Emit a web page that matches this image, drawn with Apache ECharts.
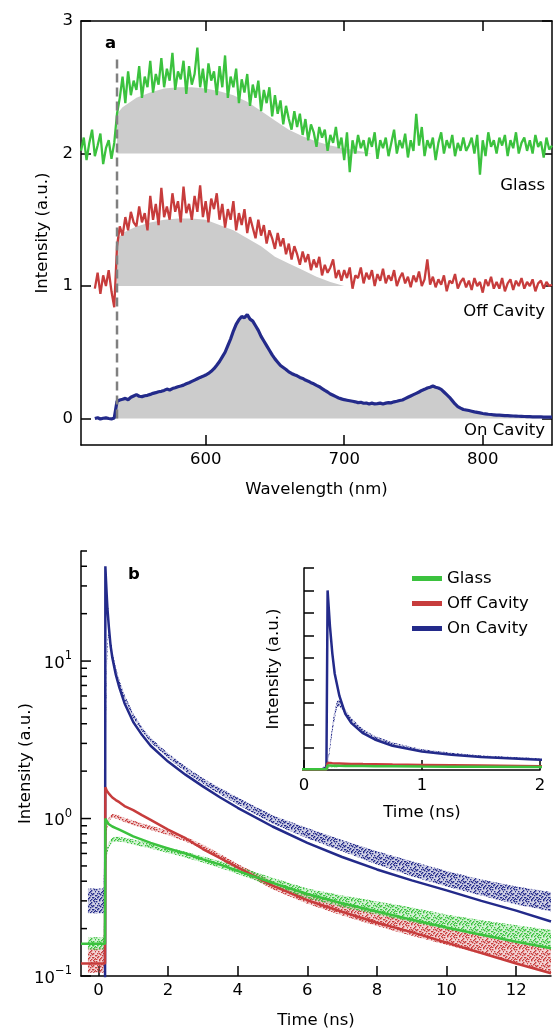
<!DOCTYPE html>
<html>
<head>
<meta charset="UTF-8">
<script src="https://cdn.jsdelivr.net/npm/echarts@6/dist/echarts.min.js"></script>
<style>
  html, body { margin: 0; padding: 0; background: #fff; }
  #chart { width: 556px; height: 1034px; }
</style>
</head>
<body>
<div id="chart"></div>
<script>
// ---------- panel a : spectra, 2 nm steps from 510 nm ----------
var wlStart = 510, wlStep = 2;
var glassSpec = [
  2.02, 2.12, 1.95, 2.08, 2.18, 1.98, 2.06, 2.15, 1.92, 2.04,
  2.10, 1.96, 2.08, 2.30, 2.42, 2.58, 2.38, 2.62, 2.44, 2.55,
  2.48, 2.66, 2.42, 2.58, 2.50, 2.70, 2.46, 2.60, 2.52, 2.72,
  2.50, 2.64, 2.55, 2.76, 2.48, 2.62, 2.56, 2.70, 2.45, 2.66,
  2.52, 2.60, 2.80, 2.50, 2.64, 2.46, 2.68, 2.55, 2.62, 2.44,
  2.66, 2.50, 2.74, 2.42, 2.58, 2.50, 2.64, 2.38, 2.56, 2.46,
  2.60, 2.36, 2.52, 2.42, 2.55, 2.32, 2.48, 2.38, 2.50, 2.28,
  2.44, 2.30, 2.40, 2.22, 2.36, 2.26, 2.18, 2.32, 2.20, 2.30,
  2.14, 2.26, 2.10, 2.22, 2.16, 2.05, 2.20, 2.12, 2.18, 2.02,
  2.14, 2.08, 2.20, 2.04, 2.12, 1.95, 2.16, 1.86, 2.10, 2.00,
  2.14, 2.04, 2.10, 1.98, 2.12, 2.05, 2.16, 1.96, 2.10, 2.04,
  2.12, 1.98, 2.08, 2.18, 2.00, 2.10, 2.04, 2.15, 1.97, 2.10,
  2.02, 2.30, 2.06, 2.20, 1.98, 2.10, 2.04, 2.12, 1.95, 2.08,
  2.16, 2.00, 2.10, 2.04, 2.14, 1.98, 2.08, 2.02, 2.12, 2.02,
  2.06, 2.12, 2.00, 2.14, 1.84, 2.10, 1.98, 2.16, 2.05, 2.10,
  2.00, 2.12, 2.06, 2.14, 1.98, 2.10, 2.04, 2.16, 2.00, 2.08,
  2.12, 2.02, 2.10, 2.00, 2.14, 2.05, 2.09, 1.97, 2.12, 2.03,
  2.06
];
var offSpec = [
  null, null, null, null, null, 0.98, 1.10, 0.94, 1.08, 1.00,
  1.12, 0.96, 0.84, 1.30, 1.45, 1.38, 1.52, 1.42, 1.56, 1.48,
  1.45, 1.60, 1.48, 1.55, 1.42, 1.68, 1.50, 1.62, 1.46, 1.74,
  1.52, 1.60, 1.50, 1.70, 1.56, 1.64, 1.48, 1.75, 1.55, 1.62,
  1.50, 1.68, 1.56, 1.76, 1.52, 1.64, 1.48, 1.66, 1.58, 1.70,
  1.50, 1.62, 1.44, 1.58, 1.50, 1.64, 1.42, 1.55, 1.46, 1.58,
  1.40, 1.52, 1.44, 1.36, 1.50, 1.38, 1.46, 1.32, 1.42, 1.36,
  1.28, 1.40, 1.30, 1.36, 1.24, 1.32, 1.20, 1.30, 1.24, 1.16,
  1.26, 1.18, 1.24, 1.12, 1.20, 1.14, 1.22, 1.08, 1.16, 1.10,
  1.14, 1.20, 1.06, 1.12, 1.04, 1.12, 1.06, 1.14, 0.98, 1.08,
  1.06, 1.14, 1.02, 1.10, 1.05, 1.12, 1.00, 1.09, 1.04, 1.13,
  1.02, 1.08, 1.04, 1.12, 1.00, 1.06, 1.10, 1.02, 1.07, 0.99,
  1.08, 1.03, 1.11, 1.00, 1.05, 1.20, 1.01, 1.07, 0.99, 1.05,
  1.01, 1.08, 0.96, 1.04, 1.02, 1.09, 0.98, 1.03, 1.06, 0.99,
  1.04, 0.97, 1.06, 1.00, 1.03, 0.95, 1.05, 1.00, 1.07, 0.98,
  1.03, 0.98, 1.06, 0.96, 1.02, 1.05, 0.97, 1.04, 1.00, 1.06,
  0.98, 1.03, 1.00, 1.05, 0.96, 1.02, 1.04, 0.98, 1.03, 1.00,
  1.01
];
var onSpec = [
  null, null, null, null, null, 0.000, 0.006, -0.004, 0.002, 0.005,
  0.000, -0.003, 0.004, 0.130, 0.140, 0.145, 0.152, 0.142, 0.160, 0.170,
  0.180, 0.168, 0.165, 0.172, 0.175, 0.182, 0.190, 0.195, 0.202, 0.205,
  0.212, 0.222, 0.215, 0.226, 0.232, 0.240, 0.245, 0.252, 0.262, 0.270,
  0.280, 0.290, 0.300, 0.310, 0.318, 0.328, 0.340, 0.356, 0.376, 0.402,
  0.430, 0.465, 0.500, 0.550, 0.600, 0.660, 0.710, 0.745, 0.770, 0.760,
  0.785, 0.750, 0.735, 0.700, 0.665, 0.620, 0.585, 0.550, 0.515, 0.480,
  0.450, 0.425, 0.400, 0.385, 0.370, 0.352, 0.340, 0.330, 0.322, 0.310,
  0.302, 0.290, 0.282, 0.270, 0.262, 0.250, 0.240, 0.226, 0.212, 0.200,
  0.185, 0.175, 0.165, 0.155, 0.148, 0.142, 0.138, 0.134, 0.130, 0.126,
  0.120, 0.122, 0.115, 0.117, 0.110, 0.116, 0.110, 0.112, 0.116, 0.110,
  0.116, 0.120, 0.118, 0.126, 0.130, 0.136, 0.140, 0.150, 0.160, 0.170,
  0.180, 0.190, 0.200, 0.212, 0.220, 0.230, 0.236, 0.245, 0.236, 0.230,
  0.220, 0.200, 0.180, 0.160, 0.135, 0.110, 0.090, 0.078, 0.068, 0.064,
  0.060, 0.055, 0.050, 0.046, 0.042, 0.038, 0.035, 0.032, 0.030, 0.028,
  0.026, 0.025, 0.024, 0.022, 0.021, 0.020, 0.019, 0.018, 0.017, 0.016,
  0.015, 0.014, 0.014, 0.013, 0.013, 0.012, 0.012, 0.011, 0.011, 0.010,
  0.010
];
// smoothed shading under the two upper spectra
var glassFillWl = [536, 540, 550, 560, 570, 580, 590, 600, 610, 620, 630, 640, 650, 660, 670, 680, 690, 700, 710, 720];
var glassFill   = [2.30, 2.35, 2.42, 2.46, 2.49, 2.50, 2.50, 2.49, 2.47, 2.44, 2.39, 2.32, 2.25, 2.18, 2.13, 2.09, 2.06, 2.04, 2.02, 2.00];
var offFillWl = [536, 540, 550, 560, 570, 580, 590, 600, 610, 620, 630, 640, 650, 660, 670, 680, 690, 700];
var offFill   = [1.35, 1.40, 1.45, 1.48, 1.50, 1.51, 1.51, 1.50, 1.46, 1.42, 1.36, 1.30, 1.22, 1.17, 1.12, 1.07, 1.03, 1.00];
var laserWl = 536, laserTop = 2.72;
var wlTicks = [600, 700, 800];
var intTicks = [0, 1, 2, 3];

// ---------- panel b : decays ----------
var fitT     = [-0.5, 0.19, 0.2, 0.22, 0.24, 0.26, 0.3, 0.35, 0.4, 0.5, 0.6, 0.75, 1.0, 1.25, 1.5, 2, 2.5, 3, 3.5, 4, 5, 6, 7, 8, 9, 10, 11, 12, 13];
var onFit    = [0.05, 0.05, 40, 32, 26, 21.5, 16.5, 12.5, 10.5, 8.2, 6.8, 5.4, 4.1, 3.4, 2.9, 2.3, 1.9, 1.6, 1.36, 1.17, 0.89, 0.7, 0.57, 0.475, 0.405, 0.35, 0.3, 0.26, 0.222];
var offFit   = [0.12, 0.12, 1.58, 1.54, 1.5, 1.47, 1.44, 1.4, 1.36, 1.31, 1.27, 1.2, 1.13, 1.05, 0.98, 0.85, 0.75, 0.64, 0.56, 0.49, 0.375, 0.303, 0.256, 0.218, 0.19, 0.163, 0.14, 0.12, 0.104];
var glassFit = [0.16, 0.16, 1.0, 0.98, 0.96, 0.94, 0.92, 0.9, 0.89, 0.87, 0.85, 0.82, 0.77, 0.735, 0.7, 0.645, 0.6, 0.55, 0.51, 0.465, 0.39, 0.332, 0.29, 0.257, 0.228, 0.203, 0.183, 0.165, 0.15];

// measured counts: lower / upper edge of the point cloud
var dataT   = [-0.3, 0.15, 0.2, 0.22, 0.25, 0.28, 0.3, 0.35, 0.4, 0.5, 0.6, 0.75, 1.0, 1.25, 1.5, 2, 2.5, 3, 3.5, 4, 5, 6, 7, 8, 9, 10, 11, 12, 13];
var onLo    = [0.25, 0.25, 0.5, 4.5, 10, 14, 14.2, 12.5, 10.8, 8.5, 7.0, 5.7, 4.35, 3.58, 3.05, 2.42, 1.98, 1.66, 1.42, 1.23, 0.93, 0.75, 0.62, 0.51, 0.43, 0.37, 0.325, 0.285, 0.258];
var onHi    = [0.36, 0.36, 1.5, 6, 12, 15.5, 15.5, 13.5, 11.6, 9.1, 7.6, 6.1, 4.65, 3.82, 3.25, 2.6, 2.14, 1.8, 1.56, 1.36, 1.05, 0.87, 0.73, 0.62, 0.535, 0.465, 0.41, 0.37, 0.342];
var glassLo = [0.147, 0.147, 0.3, 0.52, 0.59, 0.63, 0.655, 0.685, 0.705, 0.715, 0.715, 0.705, 0.685, 0.665, 0.645, 0.605, 0.565, 0.525, 0.485, 0.445, 0.37, 0.312, 0.274, 0.246, 0.22, 0.198, 0.18, 0.165, 0.152];
var glassHi = [0.176, 0.176, 0.5, 0.58, 0.65, 0.69, 0.705, 0.735, 0.755, 0.765, 0.765, 0.755, 0.735, 0.715, 0.695, 0.655, 0.615, 0.575, 0.535, 0.495, 0.42, 0.36, 0.325, 0.298, 0.272, 0.246, 0.226, 0.21, 0.196];
var offLo   = [0.105, 0.105, 0.2, 0.72, 0.86, 0.93, 0.95, 0.99, 1.01, 1.0, 0.98, 0.95, 0.91, 0.875, 0.845, 0.785, 0.715, 0.64, 0.55, 0.47, 0.355, 0.288, 0.242, 0.208, 0.18, 0.158, 0.138, 0.12, 0.105];
var offHi   = [0.15, 0.15, 0.4, 0.85, 0.94, 1.0, 1.01, 1.05, 1.07, 1.06, 1.04, 1.01, 0.97, 0.93, 0.9, 0.835, 0.765, 0.685, 0.595, 0.515, 0.4, 0.332, 0.285, 0.252, 0.225, 0.2, 0.18, 0.162, 0.148];

var timeTicks = [0, 2, 4, 6, 8, 10, 12];
var logMajor = [0.1, 1, 10];
var logMajorExp = ['\u22121', '0', '1'];
var logMinor = [0.2, 0.3, 0.4, 0.5, 0.6, 0.7, 0.8, 0.9, 2, 3, 4, 5, 6, 7, 8, 9, 20, 30, 40, 50];
var tMin = -0.5, tMax = 13;

var names = ['Glass', 'Off Cavity', 'On Cavity'];
var GREEN = '#3bc23e', RED = '#c73c3c', NAVY = '#232a8a', SHADE = '#cccccc';
var FONT = 'DejaVu Sans';
var FS = 16.5;

function pairs(xs, ys) {
  var out = [];
  for (var i = 0; i < ys.length; i++) if (ys[i] !== null) out.push([xs[i], ys[i]]);
  return out;
}
var wl = glassSpec.map(function (v, i) { return wlStart + i * wlStep; });

// speckle texture for the point clouds (fixed dot layout in a 12x12 tile)
var speckDots = [[0, 1], [3, 0], [7, 2], [10, 1], [5, 4], [1, 5], [9, 5], [11, 7], [2, 8], [6, 7],
                 [4, 10], [8, 9], [0, 11], [10, 11], [6, 0], [2, 3], [8, 6], [4, 6], [11, 3], [1, 9],
                 [7, 11], [9, 9], [3, 5], [5, 9], [0, 7], [11, 10], [6, 3], [9, 0], [3, 11], [7, 5]];
function speckle(color) {
  var c = document.createElement('canvas');
  c.width = 12; c.height = 12;
  var g = c.getContext('2d');
  g.fillStyle = color;
  speckDots.forEach(function (d) { g.fillRect(d[0], d[1], 1.4, 1.4); });
  return { image: c, repeat: 'repeat' };
}

var axisLine = { show: true, onZero: false, lineStyle: { color: '#000', width: 1.5 } };
var tickStyle = { color: '#000', width: 1.5 };
var labelStyle = { color: '#000', fontFamily: FONT, fontSize: FS };
var nameStyle = { color: '#000', fontFamily: FONT, fontSize: FS };

function specLine(name, xs, ys, color, width, extra) {
  var s = {
    name: name, type: 'line', xAxisIndex: 0, yAxisIndex: 0,
    data: pairs(xs, ys), showSymbol: false, symbol: 'none', z: 5,
    color: color, lineStyle: { color: color, width: width, join: 'bevel' }
  };
  for (var k in extra) s[k] = extra[k];
  return s;
}
function shade(xs, ys, base) {
  return {
    type: 'line', xAxisIndex: 0, yAxisIndex: 0, data: pairs(xs, ys),
    showSymbol: false, symbol: 'none', z: 2, silent: true,
    lineStyle: { width: 0 }, areaStyle: { color: SHADE, opacity: 1, origin: base }
  };
}
function band(lo, hi, color, xi, yi) {
  var tex = speckle(color);
  return {
    type: 'custom', xAxisIndex: xi, yAxisIndex: yi, clip: true, silent: true, z: 3,
    data: [[dataT[0], lo[0]]],
    renderItem: function (params, api) {
      var pts = [];
      for (var i = 0; i < dataT.length; i++) pts.push(api.coord([dataT[i], hi[i]]));
      for (var j = dataT.length - 1; j >= 0; j--) pts.push(api.coord([dataT[j], lo[j]]));
      return { type: 'group', children: [
        { type: 'polygon', shape: { points: pts }, style: { fill: color, opacity: 0.22 } },
        { type: 'polygon', shape: { points: pts }, style: { fill: tex } }
      ] };
    }
  };
}
function fit(name, ys, color, xi, yi) {
  return {
    name: name, type: 'line', xAxisIndex: xi, yAxisIndex: yi, data: pairs(fitT, ys),
    showSymbol: false, symbol: 'none', z: 6, clip: true,
    color: color, lineStyle: { color: color, width: 2.5 }
  };
}

var chart = echarts.init(document.getElementById('chart'), null, { renderer: 'canvas' });
chart.setOption({
  animation: false,
  backgroundColor: '#fff',
  grid: [
    { left: 81, top: 21, width: 471, height: 424, outerBoundsMode: 'none' },
    { left: 81, top: 551, width: 470, height: 425, outerBoundsMode: 'none' },
    { left: 304, top: 568, width: 236, height: 202, outerBoundsMode: 'none' }
  ],
  xAxis: [
    { gridIndex: 0, type: 'value', min: 510, max: 850, axisLine: axisLine,
      axisTick: { inside: true, length: 10, lineStyle: tickStyle, customValues: wlTicks },
      axisLabel: Object.assign({ margin: 6, customValues: wlTicks }, labelStyle),
      splitLine: { show: false },
      name: 'Wavelength (nm)', nameLocation: 'middle', nameGap: 36, nameTextStyle: nameStyle },
    { gridIndex: 0, type: 'value', position: 'top', min: 510, max: 850, axisLine: axisLine,
      axisTick: { inside: true, length: 10, lineStyle: tickStyle, customValues: wlTicks },
      axisLabel: { show: false }, splitLine: { show: false } },
    { gridIndex: 1, type: 'value', min: tMin, max: tMax, axisLine: axisLine,
      axisTick: { inside: true, length: 10, lineStyle: tickStyle, customValues: timeTicks },
      axisLabel: Object.assign({ margin: 6, customValues: timeTicks }, labelStyle),
      splitLine: { show: false },
      name: 'Time (ns)', nameLocation: 'middle', nameGap: 36, nameTextStyle: nameStyle },
    { gridIndex: 2, type: 'value', min: 0, max: 2, interval: 1, axisLine: axisLine,
      axisTick: { inside: true, length: 10, lineStyle: tickStyle },
      axisLabel: Object.assign({ margin: 7 }, labelStyle),
      splitLine: { show: false },
      name: 'Time (ns)', nameLocation: 'middle', nameGap: 34, nameTextStyle: nameStyle }
  ],
  yAxis: [
    { gridIndex: 0, type: 'value', min: -0.2, max: 3, axisLine: axisLine,
      axisTick: { inside: true, length: 10, lineStyle: tickStyle, customValues: intTicks },
      axisLabel: Object.assign({ margin: 8, customValues: intTicks }, labelStyle),
      splitLine: { show: false },
      name: 'Intensity (a.u.)', nameLocation: 'middle', nameGap: 30, nameTextStyle: nameStyle },
    { gridIndex: 0, type: 'value', position: 'right', min: -0.2, max: 3, axisLine: axisLine,
      axisTick: { inside: true, length: 10, lineStyle: tickStyle, customValues: intTicks },
      axisLabel: { show: false }, splitLine: { show: false } },
    { gridIndex: 1, type: 'log', logBase: 10, min: 0.1, max: 50, axisLine: axisLine,
      axisTick: { show: false }, axisLabel: { show: false }, splitLine: { show: false },
      minorTick: { show: false }, minorSplitLine: { show: false },
      name: 'Intensity (a.u.)', nameLocation: 'middle', nameGap: 47, nameTextStyle: nameStyle },
    { gridIndex: 2, type: 'value', min: 0, max: 45, interval: 5, axisLine: axisLine,
      axisTick: { inside: true, length: 10, lineStyle: tickStyle },
      axisLabel: { show: false }, splitLine: { show: false },
      name: 'Intensity (a.u.)', nameLocation: 'middle', nameGap: 22, nameTextStyle: nameStyle }
  ],
  legend: {
    orient: 'vertical', left: 407, top: 565, icon: 'rect', itemWidth: 30, itemHeight: 5,
    itemGap: 8, selectedMode: false, data: names,
    textStyle: { color: '#000', fontFamily: FONT, fontSize: FS }
  },
  graphic: [
    { type: 'text', left: 105, top: 35, style: { text: 'a', fill: '#000', font: 'bold 16.5px "DejaVu Sans"' } },
    { type: 'text', left: 128, top: 566, style: { text: 'b', fill: '#000', font: 'bold 16.5px "DejaVu Sans"' } },
    { type: 'text', right: 11, top: 177, style: { text: names[0], fill: '#000', font: FS + 'px "DejaVu Sans"' } },
    { type: 'text', right: 11, top: 303, style: { text: names[1], fill: '#000', font: FS + 'px "DejaVu Sans"' } },
    { type: 'text', right: 11, top: 422, style: { text: names[2], fill: '#000', font: FS + 'px "DejaVu Sans"' } }
  ],
  series: [
    // panel a
    shade(glassFillWl, glassFill, 2),
    shade(offFillWl, offFill, 1),
    specLine('glassSpec', wl, glassSpec, GREEN, 2.3, {}),
    specLine('offSpec', wl, offSpec, RED, 2.3, {}),
    specLine('onSpec', wl, onSpec, NAVY, 3.2, { areaStyle: { color: SHADE, opacity: 1, origin: 0 } }),
    { type: 'line', xAxisIndex: 0, yAxisIndex: 0, z: 8, silent: true, showSymbol: false, symbol: 'none',
      data: [[laserWl, 0], [laserWl, laserTop]],
      lineStyle: { color: '#808080', width: 2.5, type: [9, 5] } },
    // panel b main
    band(onLo, onHi, NAVY, 2, 2),
    band(offLo, offHi, RED, 2, 2),
    band(glassLo, glassHi, GREEN, 2, 2),
    fit(names[2], onFit, NAVY, 2, 2),
    fit(names[1], offFit, RED, 2, 2),
    fit(names[0], glassFit, GREEN, 2, 2),
    // log axis ticks and labels
    { type: 'custom', xAxisIndex: 2, yAxisIndex: 2, clip: false, silent: true, z: 10,
      data: logMajor.map(function (v, i) { return [tMin, v, 1, i]; })
        .concat(logMinor.map(function (v) { return [tMin, v, 0, -1]; })),
      renderItem: function (params, api) {
        var p = api.coord([api.value(0), api.value(1)]);
        var major = api.value(2) === 1;
        var kids = [{ type: 'line', shape: { x1: p[0], y1: p[1], x2: p[0] + (major ? 10 : 6), y2: p[1] },
                      style: { stroke: '#000', lineWidth: 1.5 } }];
        if (major) {
          kids.push({ type: 'text', x: p[0] - 9, y: p[1],
            style: { text: '{b|10}{s|' + logMajorExp[api.value(3)] + '}', align: 'right', verticalAlign: 'middle',
              fill: '#000',
              rich: { b: { fontSize: FS, fontFamily: FONT, lineHeight: 22, verticalAlign: 'bottom', color: '#000' },
                      s: { fontSize: 11.5, fontFamily: FONT, lineHeight: 22, verticalAlign: 'top', color: '#000' } } } });
        }
        return { type: 'group', children: kids };
      } },
    // inset
    band(onLo, onHi, NAVY, 3, 3),
    band(offLo, offHi, RED, 3, 3),
    band(glassLo, glassHi, GREEN, 3, 3),
    fit(names[2], onFit, NAVY, 3, 3),
    fit(names[1], offFit, RED, 3, 3),
    fit(names[0], glassFit, GREEN, 3, 3)
  ]
});
</script>
</body>
</html>
